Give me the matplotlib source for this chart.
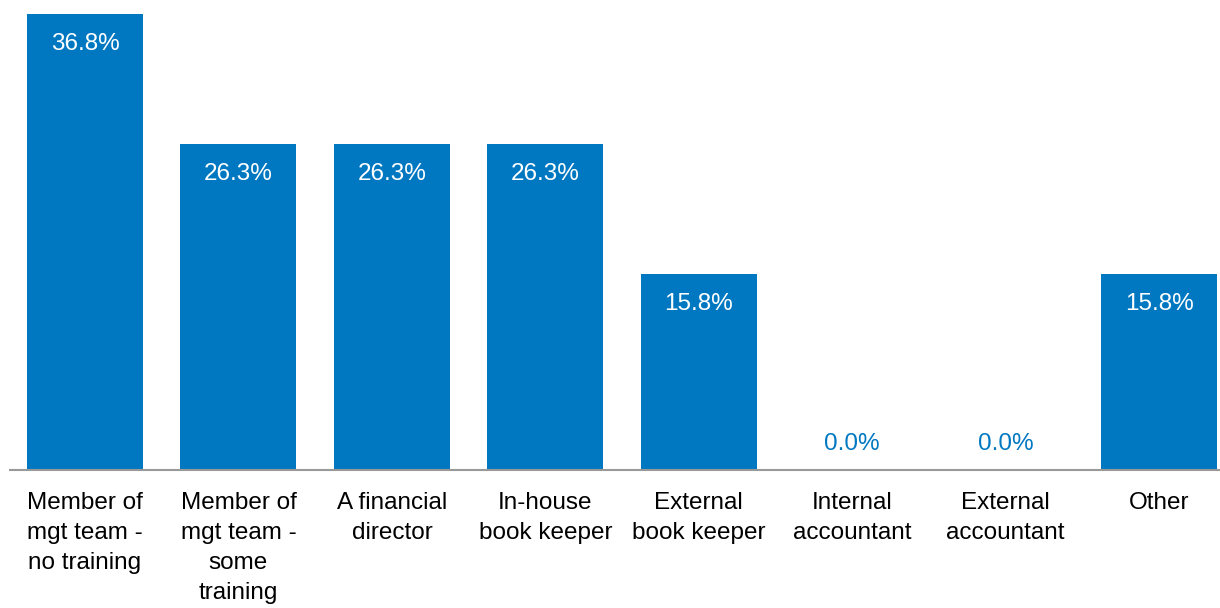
import matplotlib.pyplot as plt

# Who prepares the financial information
categories = ['Member of\nmgt team -\nno training', 'Member of\nmgt team -\nsome\ntraining',
              'A financial\ndirector', 'In-house\nbook keeper', 'External\nbook keeper',
              'Internal\naccountant', 'External\naccountant', 'Other']
values = [36.8, 26.3, 26.3, 26.3, 15.8, 0.0, 0.0, 15.8]

blue = '#0078C1'
plt.rcParams['font.family'] = ['Liberation Sans', 'DejaVu Sans']

fig = plt.figure(figsize=(12.2, 6.08), dpi=100)
ax = fig.add_axes([10 / 1220, 138 / 608, 1210 / 1220, 456 / 608])

x = range(len(values))
ax.bar(x, values, width=0.756, color=blue, zorder=2)

ax.set_xlim(-0.489, 7.397)
ax.set_ylim(0, 36.8)

for i, v in zip(x, values):
    if v > 2:
        ax.annotate(f'{v:.1f}%', (i, v), xytext=(0, -21.5), textcoords='offset points',
                    ha='center', va='center', color='white', fontsize=17.5)
    else:
        ax.annotate(f'{v:.1f}%', (i, v), xytext=(0, 18.5), textcoords='offset points',
                    ha='center', va='center', color=blue, fontsize=17.5)

ax.set_xticks(list(x))
ax.set_xticklabels(categories, fontsize=17.5, linespacing=1.48, va='top')
ax.tick_params(axis='x', length=0, pad=15.5)
ax.set_yticks([])

for side in ['top', 'right', 'left']:
    ax.spines[side].set_visible(False)
ax.spines['bottom'].set_color('#999999')
ax.spines['bottom'].set_linewidth(1.5)
ax.spines['bottom'].set_zorder(3)

fig.savefig('out.png', dpi=100)
